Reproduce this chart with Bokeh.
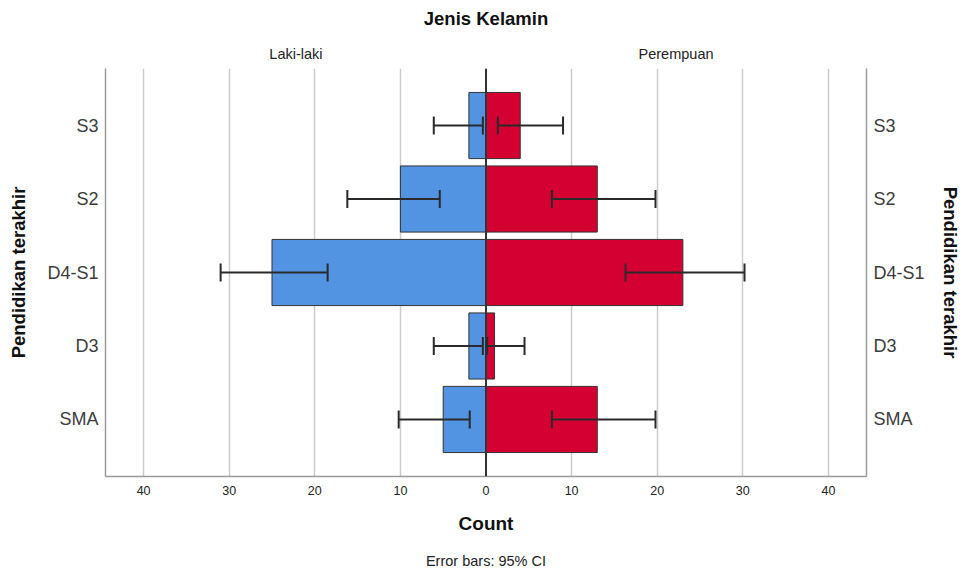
from bokeh.plotting import figure
from bokeh.models import (Range1d, FixedTicker, LinearAxis, Span, Whisker,
                          ColumnDataSource, TeeHead)
from bokeh.embed import file_html
from bokeh.resources import INLINE

# ---- data ----
categories = ["SMA", "D3", "D4-S1", "S2", "S3"]
laki = [5, 2, 25, 10, 2]
perempuan = [13, 1, 23, 13, 4]
laki_ci_low = [1.9, 0.37, 18.5, 5.4, 0.37]
laki_ci_high = [10.2, 6.1, 31.0, 16.2, 6.1]
perempuan_ci_low = [7.7, 0.13, 16.3, 7.7, 1.38]
perempuan_ci_high = [19.8, 4.5, 30.2, 19.8, 9.0]
x_ticks = [-40, -30, -20, -10, 0, 10, 20, 30, 40]
group_labels = ["Laki-laki", "Perempuan"]
group_centers = [-22.2, 22.2]

FONT = "Liberation Sans"
BLUE = "#5294e2"
RED = "#d50032"

ypos = list(range(len(categories)))

p = figure(width=963, height=571,
           x_range=Range1d(-44.45, 44.45), y_range=Range1d(-0.776, 4.776),
           output_backend="svg", toolbar_location=None,
           min_border_left=105, min_border_right=97,
           min_border_top=68, min_border_bottom=95)
p.outline_line_color = None
p.background_fill_color = "white"
p.border_fill_color = "white"

# grid
p.ygrid.visible = False
p.xgrid.ticker = FixedTicker(ticks=[t for t in x_ticks if t != 0])
p.xgrid.grid_line_color = "#cccccc"
p.xgrid.grid_line_width = 1.5

# bars
src_l = ColumnDataSource(dict(y=ypos, left=[-v for v in laki], right=[0] * len(laki)))
src_r = ColumnDataSource(dict(y=ypos, left=[0] * len(perempuan), right=perempuan))
p.hbar(y="y", left="left", right="right", height=0.9, source=src_l,
       fill_color=BLUE, line_color="#333333", line_width=1)
p.hbar(y="y", left="left", right="right", height=0.9, source=src_r,
       fill_color=RED, line_color="#333333", line_width=1)

# zero line
p.add_layout(Span(location=0, dimension="height", line_color="#333333",
                  line_width=2, level="overlay"))

# error bars
err_l = ColumnDataSource(dict(base=ypos, lower=[-v for v in laki_ci_high], upper=[-v for v in laki_ci_low]))
err_r = ColumnDataSource(dict(base=ypos, lower=perempuan_ci_low, upper=perempuan_ci_high))
for src in (err_l, err_r):
    w = Whisker(base="base", lower="lower", upper="upper", dimension="width", source=src,
                line_color="#2a2a2a", line_width=2, level="overlay",
                lower_head=TeeHead(size=18, line_color="#2a2a2a", line_width=2),
                upper_head=TeeHead(size=18, line_color="#2a2a2a", line_width=2))
    p.add_layout(w)

def no_ticks(ax):
    ax.major_tick_out = 0
    ax.major_tick_in = 0
    ax.minor_tick_out = 0
    ax.minor_tick_in = 0

# x axis
xa = p.xaxis[0]
xa.ticker = FixedTicker(ticks=x_ticks)
xa.major_label_overrides = {t: str(abs(t)) for t in x_ticks}
no_ticks(xa)
xa.axis_line_color = "#9a9a9a"
xa.axis_line_width = 1.5
xa.major_label_text_font = FONT
xa.major_label_text_font_size = "12.5px"
xa.major_label_text_color = "#222222"
xa.major_label_standoff = 9
xa.axis_label = "Count"
xa.axis_label_text_font = FONT
xa.axis_label_text_font_size = "19px"
xa.axis_label_text_font_style = "bold"
xa.axis_label_text_color = "#111111"
xa.axis_label_standoff = 15

# footnote as a label-only axis below
fa = LinearAxis(ticker=FixedTicker(ticks=[]))
no_ticks(fa)
fa.axis_line_color = None
fa.major_label_standoff = 0
fa.axis_label = "Error bars: 95% CI"
fa.axis_label_text_font = FONT
fa.axis_label_text_font_size = "14.5px"
fa.axis_label_text_font_style = "normal"
fa.axis_label_text_color = "#222222"
fa.axis_label_standoff = 16
p.add_layout(fa, "below")

# top axis: group labels and title
ta = LinearAxis(ticker=FixedTicker(ticks=group_centers),
                major_label_overrides={c: t for c, t in zip(group_centers, group_labels)})
no_ticks(ta)
ta.axis_line_color = None
ta.major_label_text_font = FONT
ta.major_label_text_font_size = "14.5px"
ta.major_label_text_color = "#222222"
ta.major_label_standoff = 7
ta.axis_label = "Jenis Kelamin"
ta.axis_label_text_font = FONT
ta.axis_label_text_font_size = "18.5px"
ta.axis_label_text_font_style = "bold"
ta.axis_label_text_color = "#111111"
ta.axis_label_standoff = 14
p.add_layout(ta, "above")

# y axes
def style_y(ax, label_standoff):
    ax.ticker = FixedTicker(ticks=ypos)
    ax.major_label_overrides = {i: c for i, c in zip(ypos, categories)}
    no_ticks(ax)
    ax.axis_line_color = "#9a9a9a"
    ax.axis_line_width = 1.5
    ax.major_label_text_font = FONT
    ax.major_label_text_font_size = "18px"
    ax.major_label_text_color = "#3c3c3c"
    ax.major_label_standoff = 7
    ax.axis_label = "Pendidikan terakhir"
    ax.axis_label_text_font = FONT
    ax.axis_label_text_font_size = "18.5px"
    ax.axis_label_text_font_style = "bold"
    ax.axis_label_text_color = "#111111"
    ax.axis_label_standoff = label_standoff

style_y(p.yaxis[0], 15)
ry = LinearAxis()
style_y(ry, 12)
p.add_layout(ry, "right")

open("out.html", "w").write(file_html(p, INLINE))
